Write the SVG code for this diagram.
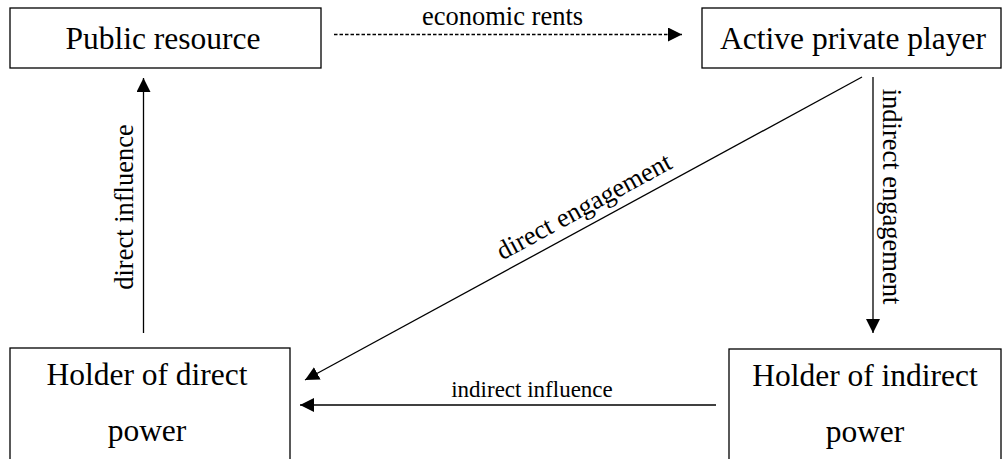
<svg xmlns="http://www.w3.org/2000/svg" width="1006" height="459" viewBox="0 0 1006 459">
<style>
.box{fill:#fff;stroke:#000;stroke-width:1.3}
.nt{font-size:31.5px;fill:#000;text-anchor:middle}
.lt{font-size:26.5px;fill:#000;text-anchor:middle}
.ln{fill:none;stroke:#000;stroke-width:1.3}
.dash{stroke-dasharray:3.5 2}
</style>
<defs>
<marker id="ah" viewBox="0 0 10 10" refX="10" refY="5" markerWidth="14" markerHeight="14" markerUnits="userSpaceOnUse" orient="auto">
<path d="M0,0 L10,5 L0,10 Z" fill="#000"/>
</marker>
</defs>
<g font-family="Liberation Serif, DejaVu Serif, serif">
<g id="connectors">
<line class="ln dash" x1="334" y1="34.5" x2="682" y2="34.5" marker-end="url(#ah)"/>
<line class="ln" x1="143.5" y1="333" x2="143.5" y2="78" marker-end="url(#ah)"/>
<line class="ln" x1="873" y1="77" x2="873" y2="333" marker-end="url(#ah)"/>
<line class="ln" x1="862" y1="77" x2="305" y2="380" marker-end="url(#ah)"/>
<line class="ln" x1="716" y1="405" x2="300" y2="405" marker-end="url(#ah)"/>
<text class="lt" x="502.5" y="25">economic rents</text>
<text class="lt" transform="translate(133,207) rotate(-90)">direct influence</text>
<text class="lt" transform="translate(883,196.5) rotate(90)">indirect engagement</text>
<text class="lt" transform="translate(588,214) rotate(-28.5)">direct engagement</text>
<text class="lt" x="532" y="397" style="font-size:23px">indirect influence</text>
</g>
<g id="public-resource">
<rect class="box" x="10" y="8" width="311" height="60"/>
<text class="nt" x="163" y="49">Public resource</text>
</g>
<g id="active-private-player">
<rect class="box" x="702" y="8" width="299" height="60"/>
<text class="nt" x="853" y="49">Active private player</text>
</g>
<g id="holder-direct">
<rect class="box" x="10" y="348" width="280" height="130"/>
<text class="nt" x="147" y="385">Holder of direct</text>
<text class="nt" x="147" y="441">power</text>
</g>
<g id="holder-indirect">
<rect class="box" x="729" y="349" width="272" height="130"/>
<text class="nt" x="865" y="386">Holder of indirect</text>
<text class="nt" x="865" y="442">power</text>
</g>
</g>
</svg>
